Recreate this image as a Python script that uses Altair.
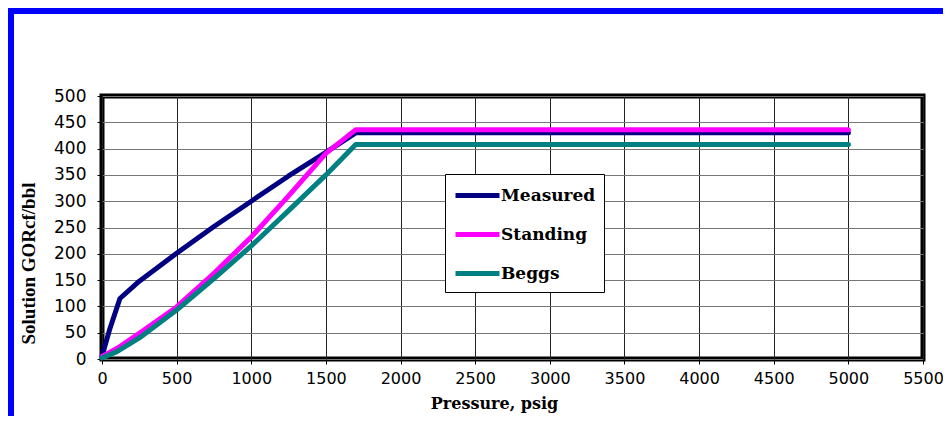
import altair as alt
import pandas as pd

series_names = ["Measured", "Standing", "Beggs"]
series_colors = ["#000080", "#FF00FF", "#008080"]

measured_p = [0, 50, 120, 250, 500, 750, 1000, 1250, 1500, 1700, 5000]
measured_r = [5, 55, 115, 148, 201, 252, 300, 348, 393, 430, 430]

standing_p = [0, 100, 250, 500, 750, 1000, 1250, 1500, 1700, 5000]
standing_r = [5, 20, 49, 99, 163, 232, 310, 391, 436, 436]

beggs_p = [0, 100, 250, 500, 750, 1000, 1250, 1500, 1700, 5000]
beggs_r = [2, 14, 40, 93, 153, 215, 282, 350, 408, 408]

x_ticks = list(range(0, 5501, 500))
y_ticks = list(range(0, 501, 50))

rows = []
for name, ps, rs in [("Measured", measured_p, measured_r),
                     ("Standing", standing_p, standing_r),
                     ("Beggs", beggs_p, beggs_r)]:
    for i, (p, r) in enumerate(zip(ps, rs)):
        rows.append({"series": name, "p": p, "r": r, "i": i})
df = pd.DataFrame(rows)

W, H = 821, 263

lines = alt.Chart(df).mark_line(strokeWidth=5, strokeCap="round", strokeJoin="round").encode(
    x=alt.X("p:Q", scale=alt.Scale(domain=[0, 5500], nice=False),
            axis=alt.Axis(values=x_ticks, format="d", title="Pressure, psig", grid=True,
                          gridColor="#222222", gridWidth=1, labelPadding=6, labelFlush=False,
                          labelFontSize=16,
                          titleFont="DejaVu Serif", titleFontSize=16,
                          titleX=392, titleY=44, titleBaseline="middle", titleAlign="center")),
    y=alt.Y("r:Q", scale=alt.Scale(domain=[0, 500], nice=False),
            axis=alt.Axis(values=y_ticks, format="d", title="Solution GORcf/bbl", grid=True,
                          gridColor="#777777", gridWidth=1, labelPadding=11, labelFlush=False,
                          labelFontSize=17,
                          titleFont="Liberation Serif", titleFontSize=19,
                          titleX=-74, titleY=167, titleAngle=270,
                          titleBaseline="middle", titleAlign="center")),
    color=alt.Color("series:N", scale=alt.Scale(domain=series_names, range=series_colors),
                    legend=alt.Legend(title=None, orient="none", legendX=343, legendY=78,
                                      symbolType="M-2,0H2", symbolStrokeWidth=5,
                                      symbolSize=484, symbolOffset=11, rowPadding=15,
                                      strokeColor="#000000", padding=8,
                                      labelFont="DejaVu Serif", labelFontWeight="bold",
                                      labelFontSize=17, labelColor="#000000",
                                      labelOffset=10, fillColor="#ffffff")),
    order="i:Q",
    detail="series:N",
)

frame_top = alt.Chart(pd.DataFrame({"a": [0]})).mark_rule(color="#0000FF", strokeWidth=6, clip=False).encode(
    x=alt.value(-94), x2=alt.value(W + 20), y=alt.value(-85)
)
frame_left = alt.Chart(pd.DataFrame({"a": [0]})).mark_rule(color="#0000FF", strokeWidth=6, clip=False).encode(
    x=alt.value(-91), y=alt.value(-88), y2=alt.value(H + 57)
)

chart = alt.layer(lines, frame_top, frame_left).properties(
    width=W, height=H,
    autosize=alt.AutoSizeParams(type="none"),
    padding={"left": 94, "top": 88, "right": 20, "bottom": 57},
    background="#ffffff",
).configure_view(
    stroke="#000000", strokeWidth=5
).configure_axis(
    labelFont="DejaVu Sans", labelColor="#000000",
    titleFontWeight="bold", titleColor="#000000",
    domain=False, tickColor="#000000", tickSize=5,
)

chart.save("out.html", embed_options={"renderer": "svg", "actions": False})
